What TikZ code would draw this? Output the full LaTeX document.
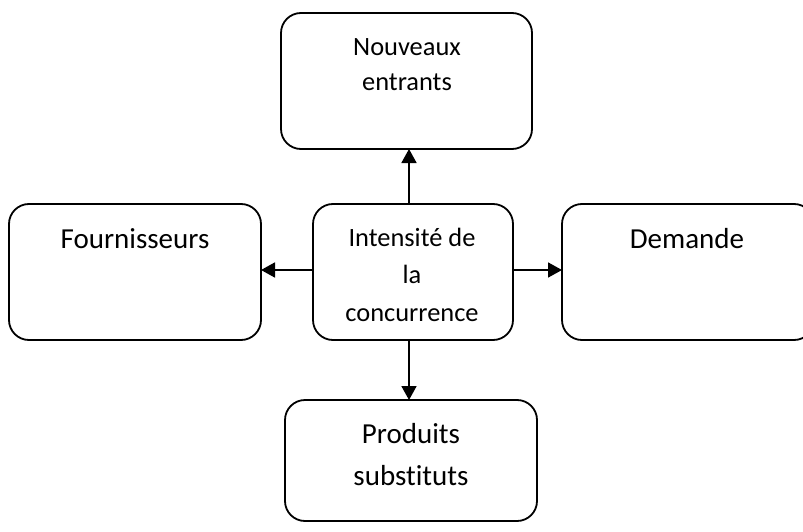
\documentclass[tikz,border=0pt]{standalone}
\usepackage{fontspec}
\setmainfont[Ligatures={NoCommon}]{Carlito}
\usetikzlibrary{arrows.meta}
\begin{document}
\begin{tikzpicture}[x=1pt,y=-1pt,
  box/.style={draw=black, line width=1.8pt, rounded corners=20pt, inner sep=0pt, outer sep=0pt},
  small/.style={font=\fontsize{26.4}{32}\selectfont, inner sep=0pt, anchor=base},
  big/.style={font=\fontsize{29}{35}\selectfont, inner sep=0pt, anchor=base},
  arr/.style={line width=1.8pt, -{Triangle[length=14pt,width=15pt]}}]
\useasboundingbox (0,0) rectangle (803,532);
\clip (0,0) rectangle (803,532);
% boxes
\node[box, minimum width=251pt, minimum height=136pt] (top) at (406.5,81) {};
\node[box, minimum width=252pt, minimum height=136pt] (left) at (135,272) {};
\node[box, minimum width=200pt, minimum height=136pt] (mid) at (413,272) {};
\node[box, minimum width=252pt, minimum height=136pt] (right) at (688,272) {};
\node[box, minimum width=252pt, minimum height=121pt] (bot) at (411,460.5) {};
% texts
\node[small] (t1) at (407,56) {Nouveaux};
\node[small] (t2) at (407,91) {entrants};
\node[big] (l1) at (135,248) {Fournisseurs};
\node[small] (m1) at (412,246) {Intensité de};
\node[small] (m2) at (412,283) {la};
\node[small] (m3) at (412,321) {concurrence};
\node[big] (r1) at (687,248) {Demande};
\node[big] (b1) at (411,443) {Produits};
\node[big] (b2) at (411,485) {substituts};
% connectors
\coordinate (vx) at (409,0);
\coordinate (hy) at (0,270);
\draw[arr] (mid.north -| vx) -- (top.south -| vx);
\draw[arr] (mid.south -| vx) -- (bot.north -| vx);
\draw[arr] (mid.west |- hy) -- (left.east |- hy);
\draw[arr] (mid.east |- hy) -- (right.west |- hy);
\end{tikzpicture}
\end{document}
